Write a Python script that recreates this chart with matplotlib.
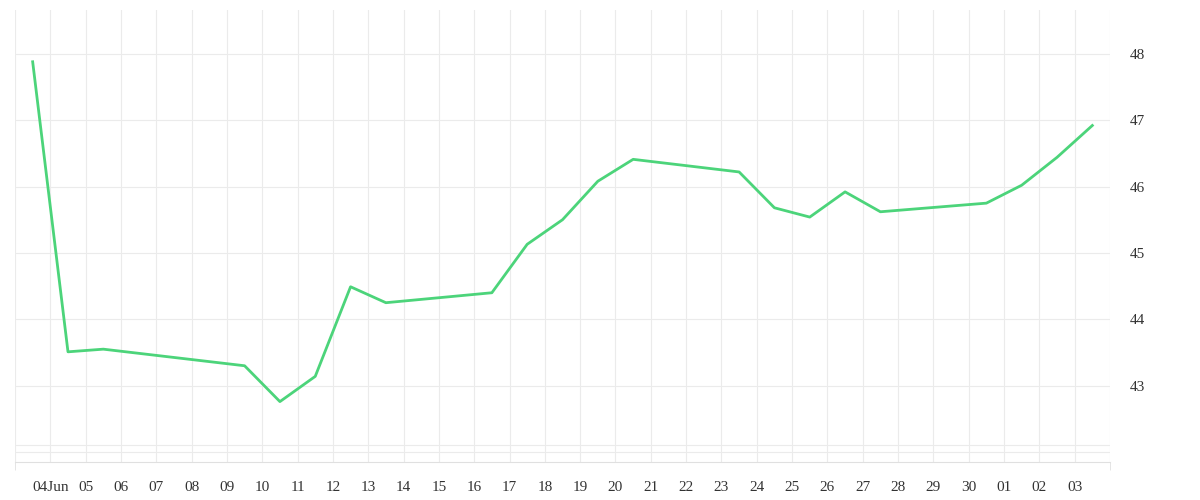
import matplotlib.pyplot as plt
import matplotlib.dates as mdates
import numpy as np
import pandas as pd

dates = pd.to_datetime([
    "2024-06-03 12:00", "2024-06-04 12:00", "2024-06-05 12:00", "2024-06-09 12:00",
    "2024-06-10 12:00", "2024-06-11 12:00", "2024-06-12 12:00", "2024-06-13 12:00",
    "2024-06-16 12:00", "2024-06-17 12:00", "2024-06-18 12:00", "2024-06-19 12:00",
    "2024-06-20 12:00", "2024-06-23 12:00", "2024-06-24 12:00", "2024-06-25 12:00",
    "2024-06-26 12:00", "2024-06-27 12:00", "2024-06-30 12:00", "2024-07-01 12:00",
    "2024-07-02 12:00", "2024-07-03 12:00",
])
values = [47.88, 43.51, 43.55, 43.30, 42.76, 43.14, 44.49, 44.25, 44.40, 45.13, 45.50,
          46.08, 46.41, 46.22, 45.68, 45.54, 45.92, 45.62, 45.75, 46.02, 46.44, 46.92]

plt.rcParams["font.family"] = "Liberation Serif"
fig = plt.figure(figsize=(12, 5), dpi=100)
ax = fig.add_axes([0.0125, 0.076, 0.9125, 0.904])

ax.plot(dates, values, color="#4cd47a", linewidth=2)

ax.set_xlim(pd.Timestamp("2024-06-03"), pd.Timestamp("2024-07-04"))
ax.set_ylim(41.85, 48.66)
ax.set_yticks([43, 44, 45, 46, 47, 48])
ax.set_yticks([42.0, 42.1], minor=True)
ax.yaxis.tick_right()

days = pd.date_range("2024-06-04", "2024-07-03", freq="D")
ax.set_xticks(days)
ax.set_xticklabels([d.strftime("%d") + ("Jun" if i == 0 else "") for i, d in enumerate(days)])
ax.set_xticks(pd.date_range("2024-06-03", "2024-07-04", freq="D"), minor=True)

ax.grid(True, which="both", color="#ebebeb", linewidth=0.8)
for s in ["top", "left", "right"]:
    ax.spines[s].set_visible(False)
ax.spines["bottom"].set_color("#e0e0e0")
ax.tick_params(axis="both", which="both", length=0, labelsize=11, colors="#333333")
ax.tick_params(axis="x", which="minor", length=6, color="#e0e0e0")
ax.tick_params(axis="x", pad=14)
ax.tick_params(axis="y", pad=14)

fig.savefig("out.png", dpi=100)
